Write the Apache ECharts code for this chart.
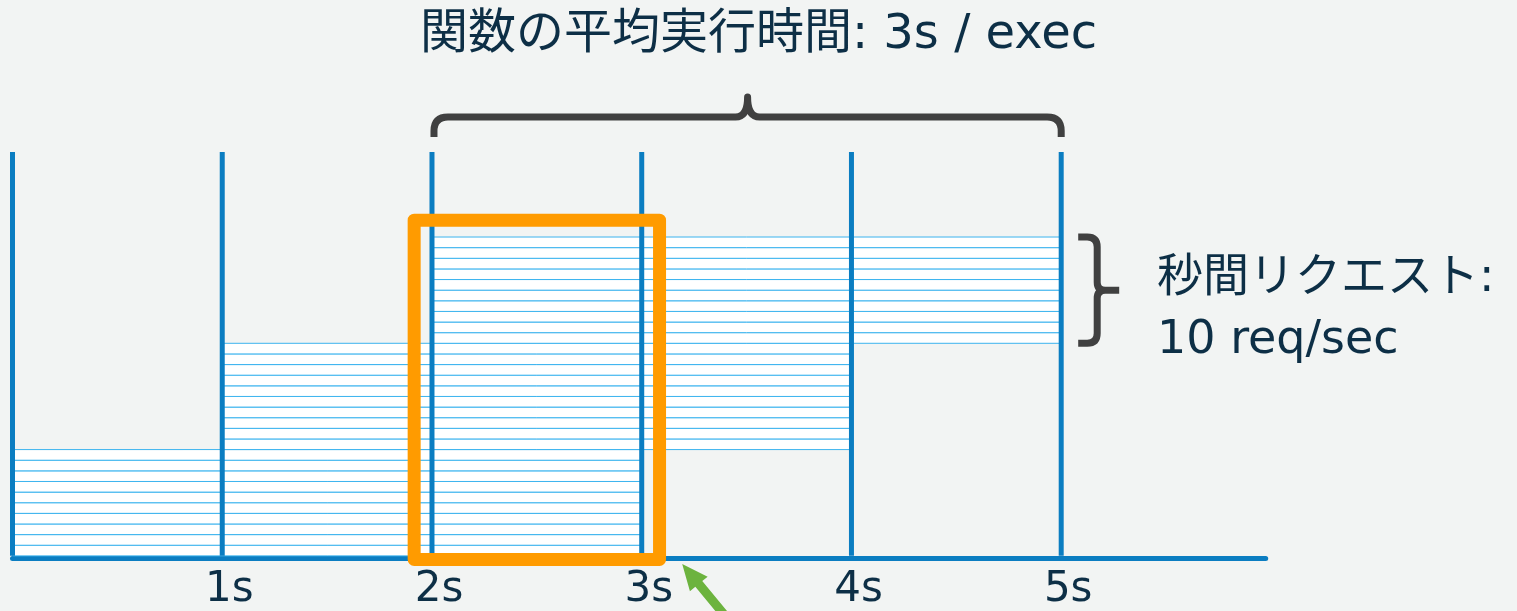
<!DOCTYPE html>
<html>
<head>
<meta charset="utf-8">
<script src="https://cdn.jsdelivr.net/npm/echarts@6/dist/echarts.min.js"></script>
<style>
  html, body { margin: 0; padding: 0; background: #f2f4f3; }
  #chart { width: 1517px; height: 611px; }
</style>
</head>
<body>
<div id="chart"></div>
<script>
// --- data ---
const tickLabels = ['', '1s', '2s', '3s', '4s', '5s'];
const secondMarks = [0, 1, 2, 3, 4, 5];
const batchStartSec = [0, 1, 2];      // 各秒に到着するリクエスト
const batchRequests = [10, 10, 10];
const execSeconds = 3;                // 平均実行時間
const titleText = '関数の平均実行時間: 3s / exec';
const rateText = '秒間リクエスト:\n10 req/sec';

// annotations (data units)
const highlightBox = [1.915, 3.085, -0.34, 31.59]; // x0, x1, y0, y1
const arrowTip = [3.193, -0.76];
const arrowTail = [3.436, -6.55];
const yMax = 38;

const textColor = '#0d2f46';
const lineBlue = '#0b7dc1';
const reqBlue = '#3cb4ef';
const font = "'DejaVu Sans', 'Noto Sans CJK JP', sans-serif";

// リクエスト一本ずつ: [開始, 終了, 段]
const requests = [];
let level = 0;
batchStartSec.forEach((s, b) => {
  for (let j = 0; j < batchRequests[b]; j++) {
    level++;
    requests.push([s, s + execSeconds, level]);
  }
});
const lastBatchFrom = level - batchRequests[batchRequests.length - 1];
const lastStart = batchStartSec[batchStartSec.length - 1];

const chart = echarts.init(document.getElementById('chart'));

const option = {
  backgroundColor: '#f2f4f3',
  animation: false,
  title: [
    {
      text: titleText,
      left: 'center',
      top: 7,
      textStyle: { fontSize: 48, fontWeight: 'normal', color: textColor, fontFamily: font }
    },
    {
      text: rateText,
      left: 1152,
      top: 243,
      textStyle: { fontSize: 46, fontWeight: 'normal', color: textColor, fontFamily: font, lineHeight: 62 }
    }
  ],
  grid: { left: 12.5, right: 251.3, top: 152, bottom: 52 },
  xAxis: {
    type: 'value',
    min: 0,
    max: 5.975,
    interval: 1,
    axisLine: { onZero: false, lineStyle: { color: lineBlue, width: 5 } },
    axisTick: { show: false },
    splitLine: { show: false },
    axisLabel: {
      fontSize: 42,
      color: textColor,
      fontFamily: font,
      margin: 11,
      padding: [0, 0, 0, 14],
      showMaxLabel: false,
      formatter: v => tickLabels[Math.round(v)] || ''
    }
  },
  yAxis: {
    type: 'value',
    min: -0.2,
    max: yMax,
    show: false
  },
  series: [
    {
      // リクエスト
      type: 'custom',
      z: 2,
      data: requests,
      renderItem: (params, api) => {
        const p0 = api.coord([api.value(0), api.value(2)]);
        const p1 = api.coord([api.value(1), api.value(2) - 1]);
        return {
          type: 'rect',
          shape: { x: p0[0], y: p0[1], width: p1[0] - p0[0], height: p1[1] - p0[1] },
          style: { fill: '#ffffff', stroke: reqBlue, lineWidth: 1 }
        };
      }
    },
    {
      // 秒の区切り線
      type: 'custom',
      z: 3,
      data: secondMarks.map(x => [x]),
      renderItem: (params, api) => {
        const a = api.coord([api.value(0), 0]);
        const b = api.coord([api.value(0), yMax]);
        return {
          type: 'line',
          shape: { x1: a[0], y1: a[1], x2: b[0], y2: b[1] },
          style: { stroke: lineBlue, lineWidth: 5 }
        };
      }
    },
    {
      // オレンジの枠
      type: 'custom',
      z: 4,
      data: [highlightBox],
      renderItem: (params, api) => {
        const p0 = api.coord([api.value(0), api.value(3)]);
        const p1 = api.coord([api.value(1), api.value(2)]);
        return {
          type: 'rect',
          shape: { x: p0[0], y: p0[1], width: p1[0] - p0[0], height: p1[1] - p0[1] },
          style: { fill: 'none', stroke: '#ff9b00', lineWidth: 13, lineJoin: 'round' }
        };
      }
    },
    {
      // 上の括弧
      type: 'custom',
      z: 4,
      data: [[lastStart, lastStart + execSeconds]],
      renderItem: (params, api) => {
        const xL = api.coord([api.value(0), yMax])[0] + 2;
        const xR = api.coord([api.value(1), yMax])[0];
        const yTop = api.coord([0, yMax])[1];
        const yEnd = yTop - 15, yH = yTop - 35, yPk = yTop - 55;
        const xm = (xL + xR) / 2, r = 14, c = 12;
        const d = `M${xL} ${yEnd} L${xL} ${yH + r} Q${xL} ${yH} ${xL + r} ${yH} L${xm - c} ${yH} Q${xm} ${yH} ${xm} ${yPk} ` +
          `Q${xm} ${yH} ${xm + c} ${yH} L${xR - r} ${yH} Q${xR} ${yH} ${xR} ${yH + r} L${xR} ${yEnd}`;
        return {
          type: 'path',
          shape: { pathData: d },
          style: { fill: 'none', stroke: '#404040', lineWidth: 7, lineJoin: 'round' }
        };
      }
    },
    {
      // 右の括弧
      type: 'custom',
      z: 4,
      data: [[lastBatchFrom, level]],
      renderItem: (params, api) => {
        const x = api.coord([secondMarks[secondMarks.length - 1], 0])[0] + 36;
        const yT = api.coord([0, api.value(1)])[1];
        const yB = api.coord([0, api.value(0)])[1];
        const yM = (yT + yB) / 2, r = 10, t = 8;
        const d = `M${x - 19} ${yT} L${x - r} ${yT} Q${x} ${yT} ${x} ${yT + r} L${x} ${yM - t} Q${x} ${yM} ${x + t} ${yM} L${x + 22} ${yM} ` +
          `M${x + 22} ${yM} L${x + t} ${yM} Q${x} ${yM} ${x} ${yM + t} L${x} ${yB - r} Q${x} ${yB} ${x - r} ${yB} L${x - 19} ${yB}`;
        return {
          type: 'path',
          shape: { pathData: d },
          style: { fill: 'none', stroke: '#404040', lineWidth: 7, lineJoin: 'round' }
        };
      }
    },
    {
      // 緑の矢印
      type: 'custom',
      z: 5,
      data: [[arrowTip[0], arrowTip[1], arrowTail[0], arrowTail[1]]],
      renderItem: (params, api) => {
        const tip = api.coord([api.value(0), api.value(1)]);
        const tail = api.coord([api.value(2), api.value(3)]);
        const dx = tail[0] - tip[0], dy = tail[1] - tip[1];
        const len = Math.hypot(dx, dy);
        const ux = dx / len, uy = dy / len, nx = -uy, ny = ux;
        const head = 26, hw = 11.5, sw = 4.5;
        const bx = tip[0] + ux * head, by = tip[1] + uy * head;
        const pts = [
          tip,
          [bx + nx * hw, by + ny * hw],
          [bx + nx * sw, by + ny * sw],
          [tail[0] + nx * sw, tail[1] + ny * sw],
          [tail[0] - nx * sw, tail[1] - ny * sw],
          [bx - nx * sw, by - ny * sw],
          [bx - nx * hw, by - ny * hw]
        ];
        return {
          type: 'polygon',
          shape: { points: pts },
          style: { fill: '#6cb33e' }
        };
      }
    }
  ]
};

chart.setOption(option);
window.addEventListener('resize', () => chart.resize());
</script>
</body>
</html>
